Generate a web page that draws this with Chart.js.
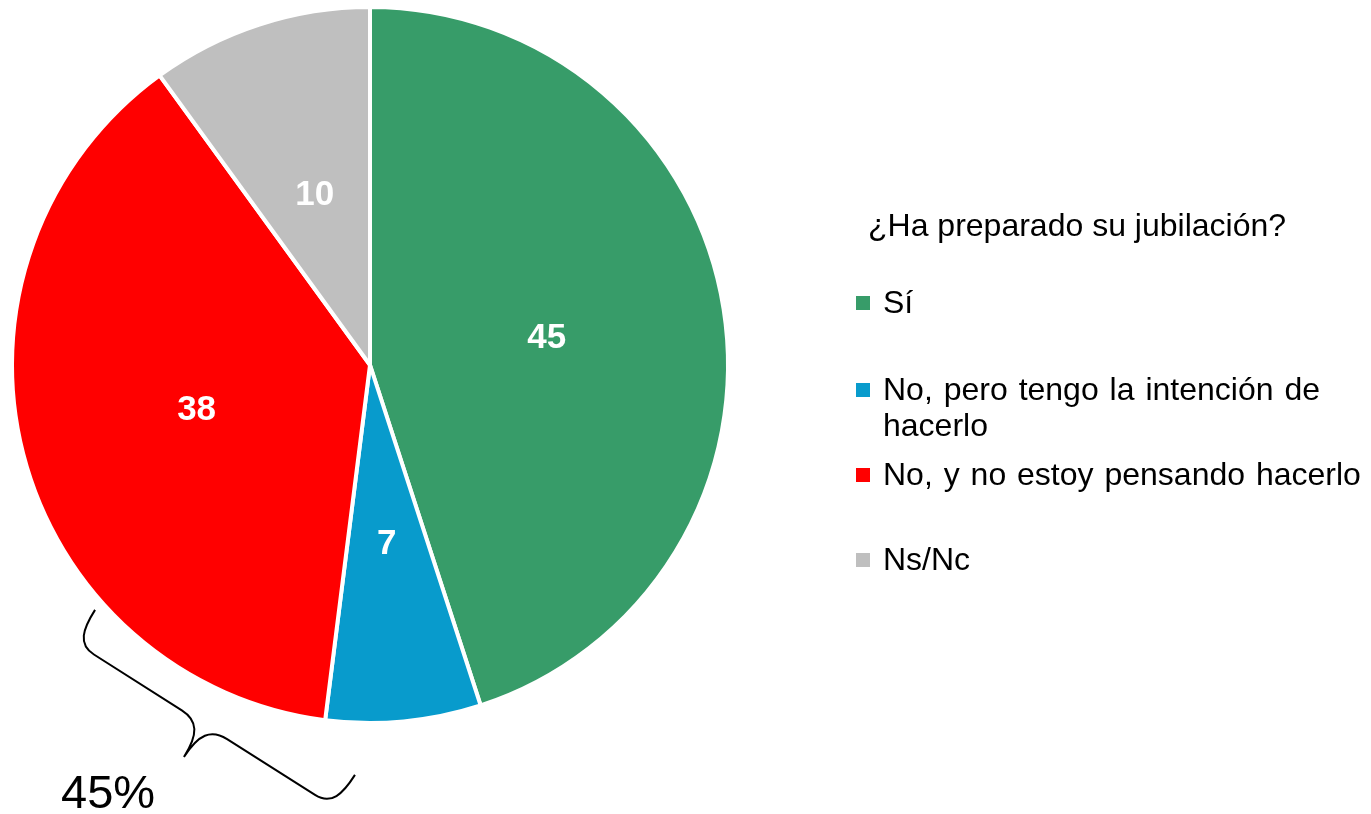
<!DOCTYPE html>
<html><head><meta charset="utf-8">
<script src="https://cdn.jsdelivr.net/npm/chart.js@4.4.0/dist/chart.umd.min.js"></script>
<style>html,body{margin:0;padding:0;background:#fff;overflow:hidden}canvas{display:block}</style>
</head><body>
<canvas id="c" width="1371" height="814"></canvas>
<script>
// ---- data ----
const categories = ['Sí', 'No, pero tengo la intención de hacerlo', 'No, y no estoy pensando hacerlo', 'Ns/Nc'];
const legendLines = [['Sí'], ['No, pero tengo la intención de', 'hacerlo'], ['No, y no estoy pensando hacerlo'], ['Ns/Nc']];
const values = [45, 7, 38, 10];
const sliceColors = ['#379C69', '#089BCC', '#FF0000', '#BFBFBF'];
const legendTitle = '¿Ha preparado su jubilación?';
const bracketLabel = '45%';

// ---- layout / style ----
const FONT = '"Liberation Sans", Arial, sans-serif';
const legendLayout = { titleX: 868, titleY: 236, markerX: 856, textX: 883, itemY: [313, 400, 485, 570], lineH: 36, box: 14 };

const extrasPlugin = {
  id: 'extras',
  afterDatasetsDraw(chart) {
    const ctx = chart.ctx;
    const meta = chart.getDatasetMeta(0);
    // value labels
    ctx.save();
    ctx.fillStyle = '#fff';
    ctx.font = 'bold 35px ' + FONT;
    ctx.textAlign = 'center';
    ctx.textBaseline = 'middle';
    meta.data.forEach((arc, i) => {
      const p = arc.tooltipPosition();
      ctx.fillText(String(values[i]), p.x, p.y + 1);
    });
    ctx.restore();

    // legend
    ctx.save();
    ctx.fillStyle = '#000';
    ctx.textAlign = 'left';
    ctx.textBaseline = 'alphabetic';
    ctx.font = '32px ' + FONT;
    ctx.fillText(legendTitle, legendLayout.titleX, legendLayout.titleY);
    if ('wordSpacing' in ctx) ctx.wordSpacing = '2px';
    legendLines.forEach((lines, i) => {
      const y = legendLayout.itemY[i];
      ctx.fillStyle = sliceColors[i];
      ctx.fillRect(legendLayout.markerX, y - 17, legendLayout.box, legendLayout.box);
      ctx.fillStyle = '#000';
      lines.forEach((t, j) => ctx.fillText(t, legendLayout.textX, y + j * legendLayout.lineH));
    });
    ctx.restore();

    // curly bracket annotation (relative to pie centre / radius)
    const a0 = meta.data[0];
    const cx = a0.x, cy = a0.y, R = a0.outerRadius;
    const x1 = cx - 0.768 * R, y1 = cy + 0.684 * R;
    const x2 = cx - 0.042 * R, y2 = cy + 1.145 * R;
    const dx = x2 - x1, dy = y2 - y1;
    const L = Math.hypot(dx, dy);
    const ux = dx / L, uy = dy / L;
    const nx = -uy, ny = ux;
    const c = 0.107 * R; // arm depth
    const P = (s, t) => [x1 + ux * s + nx * t, y1 + uy * s + ny * t];
    const half = (flip) => {
      const f = (s, t) => P(flip ? L - s : s, t);
      let p = f(0, 0); ctx.moveTo(p[0], p[1]);
      let a = f(0, 0.6 * c), b = f(0.1 * c, c), e = f(0.6 * c, c);
      ctx.bezierCurveTo(a[0], a[1], b[0], b[1], e[0], e[1]);
      e = f(L / 2 - 0.7 * c, c); ctx.lineTo(e[0], e[1]);
      a = f(L / 2 - 0.2 * c, c); b = f(L / 2, 1.3 * c); e = f(L / 2, 2 * c);
      ctx.bezierCurveTo(a[0], a[1], b[0], b[1], e[0], e[1]);
    };
    ctx.save();
    ctx.strokeStyle = '#000';
    ctx.lineWidth = 2;
    ctx.lineJoin = 'round';
    ctx.beginPath();
    half(false);
    half(true);
    ctx.stroke();
    // bracket label
    ctx.fillStyle = '#000';
    ctx.font = '47px ' + FONT;
    ctx.textBaseline = 'alphabetic';
    ctx.textAlign = 'left';
    ctx.fillText(bracketLabel, cx - 0.863 * R, cy + 1.238 * R);
    ctx.restore();
  }
};

new Chart(document.getElementById('c'), {
  type: 'pie',
  data: {
    labels: categories,
    datasets: [{
      data: values,
      backgroundColor: sliceColors,
      borderColor: '#ffffff',
      borderWidth: 4,
      hoverOffset: 0
    }]
  },
  options: {
    responsive: false,
    animation: false,
    events: [],
    layout: { padding: { left: 10, top: 5, right: 641, bottom: 89 } },
    plugins: { legend: { display: false }, tooltip: { enabled: false } }
  },
  plugins: [extrasPlugin]
});
</script>
</body></html>
